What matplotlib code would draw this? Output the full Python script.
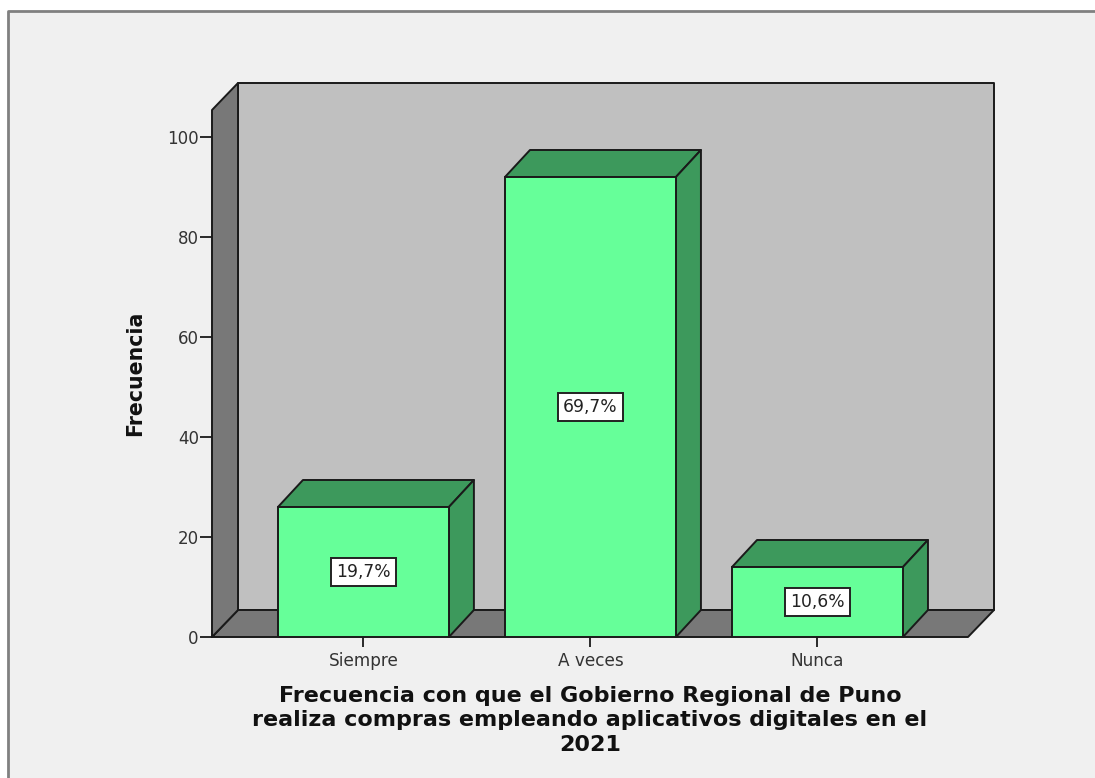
import matplotlib
matplotlib.use("Agg")
import matplotlib.pyplot as plt
from matplotlib.lines import Line2D
from matplotlib.patches import Polygon, Rectangle

categorias = ["Siempre", "A veces", "Nunca"]
frecuencia = [26, 92, 14]
porcentajes = ["19,7%", "69,7%", "10,6%"]
yticks = [0, 20, 40, 60, 80, 100]
titulo_x = ("Frecuencia con que el Gobierno Regional de Puno\n"
            "realiza compras empleando aplicativos digitales en el\n"
            "2021")

W, H = 1095, 778
plt.rcParams["font.family"] = ["DejaVu Sans"]

fig = plt.figure(figsize=(W / 100, H / 100), dpi=100, facecolor="white")

# panel background with only top and left border
fig.add_artist(Rectangle((8 / W, 0), 1, 1 - 11 / H, transform=fig.transFigure,
                         facecolor="#f0f0f0", edgecolor="none", zorder=-2))
fig.add_artist(Line2D([8 / W, 8 / W, 1], [0, 1 - 11 / H, 1 - 11 / H],
                      color="#808080", lw=2, zorder=-1))

ax = fig.add_axes([212 / W, 1 - 637 / H, 756 / W, 527 / H])
ax.set_xlim(-0.667, 2.663)
ax.set_ylim(0, 105.4)
ax.patch.set_visible(False)
for s in ax.spines.values():
    s.set_visible(False)

# depth of the 3d effect in data units
dx = 26 / 227
dy = 5.4
dx_bar = 25 / 227
x0, x1 = ax.get_xlim()
y0, y1 = ax.get_ylim()
ln = dict(edgecolor="#1a1a1a", linewidth=1.4, joinstyle="round", clip_on=False)

ax.add_patch(Polygon([(x0 + dx, y0 + dy), (x1 + dx, y0 + dy), (x1 + dx, y1 + dy), (x0 + dx, y1 + dy)],
                     facecolor="#c0c0c0", zorder=1, **ln))
ax.add_patch(Polygon([(x0, y0), (x1, y0), (x1 + dx, y0 + dy), (x0 + dx, y0 + dy)],
                     facecolor="#787878", zorder=2, **ln))
ax.add_patch(Polygon([(x0, y0), (x0 + dx, y0 + dy), (x0 + dx, y1 + dy), (x0, y1)],
                     facecolor="#787878", zorder=2, **ln))

ancho = 0.753
for i, v in enumerate(frecuencia):
    l, r = i - ancho / 2, i + ancho / 2
    ax.bar(i, v, width=ancho, color="#66ff99", edgecolor="#1a1a1a", linewidth=1.4, zorder=4)
    ax.add_patch(Polygon([(l, v), (r, v), (r + dx_bar, v + dy), (l + dx_bar, v + dy)],
                         facecolor="#3d995c", zorder=3, **ln))
    ax.add_patch(Polygon([(r, 0), (r + dx_bar, dy), (r + dx_bar, v + dy), (r, v)],
                         facecolor="#3d995c", zorder=3, **ln))
    ax.text(i, v / 2, porcentajes[i], ha="center", va="center", fontsize=12.3, zorder=5, color="#222222",
            bbox=dict(boxstyle="square,pad=0.28", facecolor="white", edgecolor="#222222", linewidth=1.4))

ax.set_xticks(range(len(categorias)))
ax.set_xticklabels(categorias, fontsize=12.2, color="#333333")
ax.set_yticks(yticks)
ax.tick_params(axis="y", length=8.5, width=1.3, labelsize=12, pad=1, labelcolor="#333333", color="#1a1a1a")
ax.tick_params(axis="x", length=7, width=1.3, pad=3.5, color="#1a1a1a")
ax.set_ylabel("Frecuencia", fontsize=14.8, fontweight="bold", labelpad=16, color="#111111")
ax.set_xlabel(titulo_x, fontsize=16, fontweight="bold", labelpad=12, linespacing=1.26, color="#111111")

fig.savefig("out.png", dpi=100)
